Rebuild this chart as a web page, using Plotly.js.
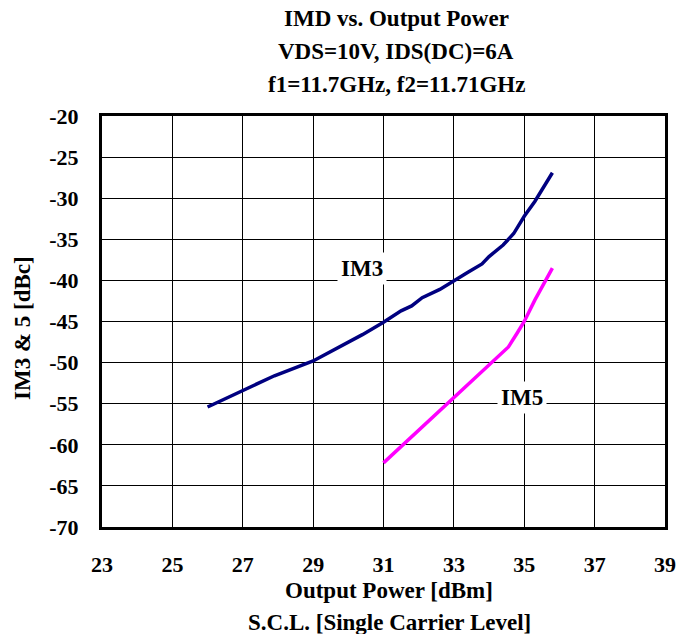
<!DOCTYPE html>
<html><head><meta charset="utf-8">
<script src="https://cdn.plot.ly/plotly-3.0.1.min.js"></script>
<style>body{margin:0;background:#fff}#c{width:680px;height:634px}
#c .xtick text, #c .ytick text{font-weight:bold !important}</style>
</head><body><div id="c"></div>
<script>
const im3X = [26.0, 27.0, 27.9, 29.0, 30.4, 31.0, 31.5, 31.8, 32.1, 32.6, 33.0, 33.4, 33.8, 34.0, 34.4, 34.7, 35.0, 35.3, 35.8];
const im3Y = [-55.4, -53.4, -51.6, -49.8, -46.6, -45.1, -43.7, -43.1, -42.1, -41.1, -40.0, -39.0, -38.0, -37.1, -35.7, -34.3, -32.2, -30.4, -26.9];
const im5X = [31.0, 31.8, 32.1, 33.0, 33.4, 33.9, 34.55, 34.8, 35.0, 35.3, 35.8];
const im5Y = [-62.2, -59.0, -57.8, -54.3, -52.7, -50.7, -48.1, -46.4, -45.0, -42.4, -38.5];
const xTicks = [23, 25, 27, 29, 31, 33, 35, 37, 39];
const yTicks = [-20, -25, -30, -35, -40, -45, -50, -55, -60, -65, -70];
const xTickText = ["23", "25", "27", "29", "31", "33", "35", "37", "39"];
const yTickText = ["-20", "-25", "-30", "-35", "-40", "-45", "-50", "-55", "-60", "-65", "-70"];
const titleLines = ["IMD vs. Output Power", "VDS=10V, IDS(DC)=6A", "f1=11.7GHz, f2=11.71GHz"];
const xTitleLines = ["Output Power [dBm]", "S.C.L. [Single Carrier Level]"];
const yTitle = "IM3 &amp; 5 [dBc]";

const F = "Liberation Serif";
const font = {family: F, size: 23, color: "#000", weight: 700};
const tfont = {family: F, size: 22, color: "#000", weight: 700};

const traces = [
  {x: im3X, y: im3Y, mode: "lines", line: {color: "#000080", width: 3.5}, name: "IM3"},
  {x: im5X, y: im5Y, mode: "lines", line: {color: "#FF00FF", width: 3.5}, name: "IM5"}
];

const ann = [];
titleLines.forEach((t, i) => ann.push({
  text: t, xref: "paper", yref: "paper", x: (396-102)/563, xanchor: "center",
  y: 1 + (116 - (18 + 33*i)) / 411, yanchor: "middle", showarrow: false, font: font
}));
xTitleLines.forEach((t, i) => ann.push({
  text: t, xref: "paper", yref: "paper", x: (389-102)/563, xanchor: "center",
  y: -((590 + 32*i) - 527) / 411, yanchor: "middle", showarrow: false, font: font
}));
ann.push({text: yTitle, xref: "paper", yref: "paper", x: (22-102)/563, xanchor: "center",
  y: 1 - (328-116)/411, yanchor: "middle", textangle: -90, showarrow: false, font: font});
ann.push({text: "IM3", x: 30.4, y: -38.6, xref: "x", yref: "y", showarrow: false,
  bgcolor: "#fff", borderpad: 3, font: font});
ann.push({text: "IM5", x: 34.95, y: -54.2, xref: "x", yref: "y", showarrow: false,
  bgcolor: "#fff", borderpad: 3, font: font});

const layout = {
  width: 680, height: 634,
  margin: {l: 102, r: 15, t: 116, b: 107},
  paper_bgcolor: "#fff", plot_bgcolor: "#fff",
  showlegend: false,
  font: font,
  xaxis: {
    range: [23, 39], tickvals: xTicks, ticktext: xTickText.map(s => "<b>" + s + "</b>"),
    showgrid: true, gridcolor: "#000", gridwidth: 1, zeroline: false,
    showline: true, mirror: true, linecolor: "#000", linewidth: 3,
    ticks: "", ticklen: 0, tickfont: tfont, automargin: false, ticklabelstandoff: 16
  },
  yaxis: {
    range: [-70, -20], tickvals: yTicks, ticktext: yTickText.map(s => "<b>" + s + "</b>"),
    showgrid: true, gridcolor: "#000", gridwidth: 1, zeroline: false,
    showline: true, mirror: true, linecolor: "#000", linewidth: 3,
    ticks: "", ticklen: 0, tickfont: tfont, automargin: false, ticklabelstandoff: 16
  },
  annotations: ann
};
Plotly.newPlot("c", traces, layout, {displayModeBar: false, staticPlot: true});
</script></body></html>
